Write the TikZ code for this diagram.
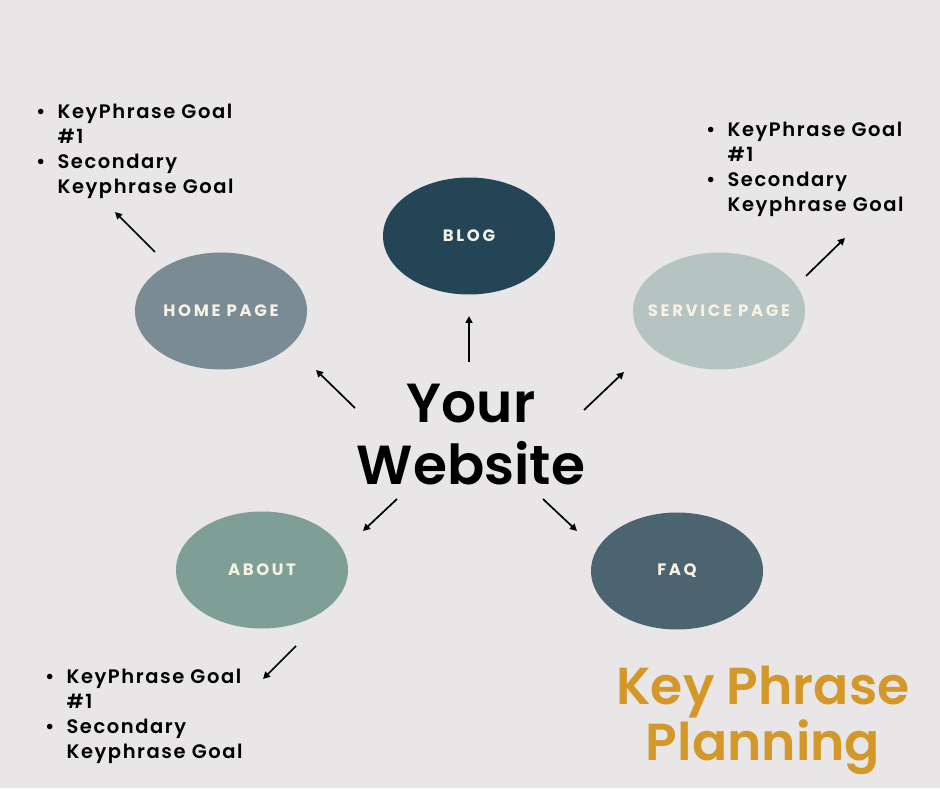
\documentclass[tikz,border=0pt]{standalone}
\usepackage{fontspec}
\setmainfont{Poppins}
\newfontfamily\pmed{Poppins SemiBold}
\usetikzlibrary{arrows.meta,shapes.geometric}
\definecolor{bg}{HTML}{E8E6E7}
\definecolor{cblog}{HTML}{244555}
\definecolor{chome}{HTML}{7A8B93}
\definecolor{cserv}{HTML}{B5C4C1}
\definecolor{cabout}{HTML}{7F9E95}
\definecolor{cfaq}{HTML}{4B6470}
\definecolor{gold}{HTML}{D4982A}
\definecolor{cream}{HTML}{F6F2E6}
\newcommand{\bulletblock}{%
\begin{tabular}[t]{@{}l@{\hspace{12pt}}l@{}}
\textbullet & KeyPhrase Goal\\
 & \#1\\
\textbullet & Secondary\\
 & Keyphrase Goal
\end{tabular}}
\begin{document}
\begin{tikzpicture}[x=1pt,y=1pt,
  bubble/.style={ellipse, minimum width=172pt, minimum height=117pt, inner sep=0pt},
  blabel/.style={font=\fontsize{16.5}{16.5}\selectfont\bfseries\addfontfeatures{LetterSpace=16}, text=cream, inner sep=0pt},
  link/.style={line width=1.7pt, -{Triangle[length=7pt,width=7pt]}},
  notes/.style={anchor=base west, inner sep=0pt, font=\pmed\fontsize{19.5}{25}\selectfont\addfontfeatures{LetterSpace=8}}]
\fill[bg] (0,0) rectangle (940,788);
\useasboundingbox (0,0) rectangle (940,788);
% bubbles
\node[bubble, fill=cblog, label={[blabel]center:BLOG}] (blog) at (469,552) {};
\node[bubble, fill=chome, label={[blabel]center:HOME PAGE}] (home) at (221,477) {};
\node[bubble, fill=cserv, label={[blabel]center:SERVICE PAGE}] (serv) at (719,477) {};
\node[bubble, fill=cabout, label={[blabel]center:ABOUT}] (about) at (262,218) {};
\node[bubble, fill=cfaq, label={[blabel]center:FAQ}] (faq) at (677,217) {};
% centre
\node[font=\pmed\fontsize{55}{62}\selectfont, align=center, inner sep=0pt, anchor=base] (web) at (471,303)
  {Your\\Website};
\node[font=\pmed\fontsize{52}{56}\selectfont, text=gold, align=center, inner sep=0pt, anchor=base] (title) at (763,28)
  {Key Phrase\\Planning};
% notes
\node[notes] (n1) at (36,669) {\bulletblock};
\node[notes] (n2) at (706,651) {\bulletblock};
\node[notes] (n3) at (45,105) {\bulletblock};
% arrow end points
\coordinate (a1s) at (155,536); \coordinate (a1e) at (115,576);
\coordinate (a2s) at (355,380); \coordinate (a2e) at (316,418);
\coordinate (a3s) at (469,426); \coordinate (a3e) at (469,472);
\coordinate (a4s) at (584,378); \coordinate (a4e) at (624,416);
\coordinate (a5s) at (806,512); \coordinate (a5e) at (845,550);
\coordinate (a6s) at (397,289); \coordinate (a6e) at (363,257);
\coordinate (a7s) at (543,289); \coordinate (a7e) at (577,257);
\coordinate (a8s) at (296,142); \coordinate (a8e) at (263,109);
\draw[link] (a1s) -- (a1e);
\draw[link] (a2s) -- (a2e);
\draw[link] (a3s) -- (a3e);
\draw[link] (a4s) -- (a4e);
\draw[link] (a5s) -- (a5e);
\draw[link] (a6s) -- (a6e);
\draw[link] (a7s) -- (a7e);
\draw[link] (a8s) -- (a8e);
\end{tikzpicture}
\end{document}
